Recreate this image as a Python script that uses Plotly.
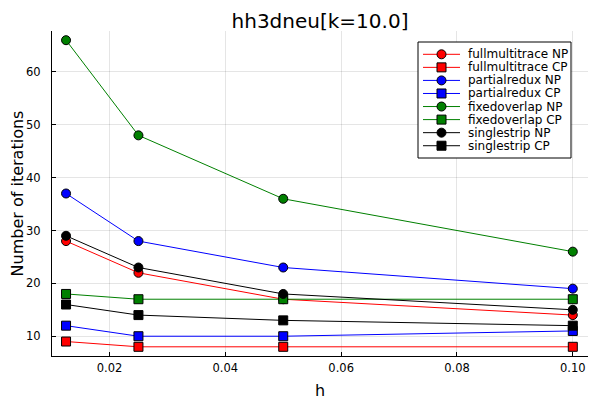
"""Iteration counts vs mesh size h for hh3dneu[k=10.0]."""

import plotly.graph_objects as go

# mesh sizes
h_values = [0.0125, 0.025, 0.05, 0.1]

# iteration counts per preconditioner
fullmultitrace_np = [28, 22, 17, 14]
fullmultitrace_cp = [9, 8, 8, 8]
partialredux_np = [37, 28, 23, 19]
partialredux_cp = [12, 10, 10, 11]
fixedoverlap_np = [66, 48, 36, 26]
fixedoverlap_cp = [18, 17, 17, 17]
singlestrip_np = [29, 23, 18, 15]
singlestrip_cp = [16, 14, 13, 12]

x_ticks = [0.02, 0.04, 0.06, 0.08, 0.10]
y_ticks = [10, 20, 30, 40, 50, 60]

series = [
    ("fullmultitrace NP", fullmultitrace_np, "#FF0000", "circle"),
    ("fullmultitrace CP", fullmultitrace_cp, "#FF0000", "square"),
    ("partialredux NP", partialredux_np, "#0000FF", "circle"),
    ("partialredux CP", partialredux_cp, "#0000FF", "square"),
    ("fixedoverlap NP", fixedoverlap_np, "#008000", "circle"),
    ("fixedoverlap CP", fixedoverlap_cp, "#008000", "square"),
    ("singlestrip NP", singlestrip_np, "#000000", "circle"),
    ("singlestrip CP", singlestrip_cp, "#000000", "square"),
]

# the page body keeps its default 8px margin, so the figure is a bit
# smaller than the window and the plot box is given in window pixels
BODY = 8
W, H = 600 - BODY, 400 - BODY
BOX_L, BOX_R, BOX_T, BOX_B = 52, 588, 31, 356
ML, MT = BOX_L - BODY, BOX_T - BODY
MR, MB = W - (BOX_R - BODY), H - (BOX_B - BODY)
PW, PH = BOX_R - BOX_L, BOX_B - BOX_T


def px(x):
    return (x - BOX_L) / PW


def py(y):
    return (BOX_B - y) / PH


fig = go.Figure()
for name, values, color, symbol in series:
    fig.add_trace(go.Scatter(
        x=h_values,
        y=values,
        name=name,
        mode="lines+markers",
        showlegend=False,
        line={"color": color, "width": 1},
        marker={
            "symbol": symbol,
            "color": color,
            "size": 9,
            "line": {"color": "#000000", "width": 1},
        },
    ))

# legend drawn by hand so rows can be packed as tightly as in GR
shapes = [dict(
    type="rect", xref="paper", yref="paper", layer="above",
    x0=px(418), x1=px(571), y0=py(158), y1=py(42),
    line={"color": "#000000", "width": 1}, fillcolor="white",
)]
annotations = []
row_top, row_step = 54.3, 13.06
for i, (name, values, color, symbol) in enumerate(series):
    yc = py(row_top + i * row_step)
    shapes.append(dict(
        type="line", xref="paper", yref="paper", layer="above",
        x0=px(423), x1=px(460), y0=yc, y1=yc,
        line={"color": color, "width": 1},
    ))
    shapes.append(dict(
        type="circle" if symbol == "circle" else "rect",
        xref="paper", yref="paper", layer="above",
        xsizemode="pixel", ysizemode="pixel",
        xanchor=px(441.5), yanchor=yc,
        x0=-4.5, x1=4.5, y0=-4.5, y1=4.5,
        line={"color": "#000000", "width": 1}, fillcolor=color,
    ))
    annotations.append(dict(
        text=name, xref="paper", yref="paper",
        x=px(466), y=yc, xanchor="left", yanchor="middle",
        showarrow=False, font={"size": 12, "color": "#000000"},
    ))

axis_style = {
    "automargin": False,
    "showline": True,
    "linecolor": "#000000",
    "linewidth": 1,
    "mirror": False,
    "ticks": "inside",
    "ticklen": 4,
    "tickcolor": "#000000",
    "showgrid": True,
    "gridcolor": "rgba(0,0,0,0.1)",
    "gridwidth": 0.5,
    "zeroline": False,
    "tickfont": {"size": 11.5, "color": "#000000"},
    "title_font": {"size": 16, "color": "#000000"},
}

fig.update_layout(
    width=W,
    height=H,
    margin={"l": ML, "r": MR, "t": MT, "b": MB},
    paper_bgcolor="white",
    plot_bgcolor="white",
    font={"family": "DejaVu Sans", "color": "#000000"},
    showlegend=False,
    title={
        "text": "hh3dneu[k=10.0]",
        "xref": "paper",
        "x": 0.5,
        "xanchor": "center",
        "y": 0.966,
        "yanchor": "middle",
        "font": {"size": 20},
    },
    xaxis={
        **axis_style,
        "title": {"text": "h"},
        "range": [0.010075, 0.102625],
        "tickvals": x_ticks,
        "tickformat": ".2f",
        "ticklabelstandoff": 1,
    },
    yaxis={
        **axis_style,
        "title": {"text": "Number of iterations"},
        "range": [6.26, 67.74],
        "tickvals": y_ticks,
        "ticklabelstandoff": 8,
    },
    shapes=shapes,
    annotations=annotations,
)

fig.write_html("out.html")
